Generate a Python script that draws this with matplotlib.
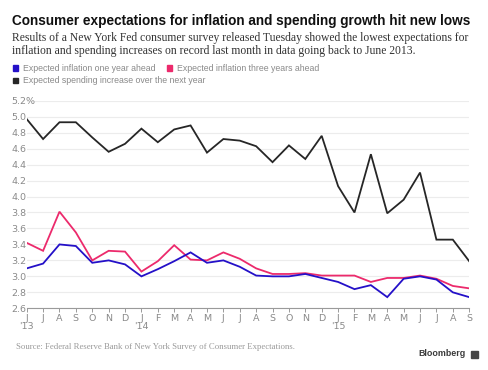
import matplotlib
matplotlib.use("Agg")
import matplotlib.pyplot as plt
import numpy as np

months = ["J", "J", "A", "S", "O", "N", "D", "J", "F", "M", "A", "M", "J", "J",
          "A", "S", "O", "N", "D", "J", "F", "M", "A", "M", "J", "J", "A", "S"]
year_labels = {0: "'13", 7: "'14", 19: "'15"}

inflation_1y = [3.10, 3.16, 3.40, 3.38, 3.17, 3.20, 3.15, 3.00, 3.09, 3.19, 3.30, 3.17,
                3.20, 3.12, 3.01, 3.00, 3.00, 3.03, 2.98, 2.93, 2.84, 2.89, 2.74, 2.97,
                3.00, 2.96, 2.80, 2.74]
inflation_3y = [3.42, 3.32, 3.81, 3.55, 3.20, 3.32, 3.31, 3.06, 3.19, 3.39, 3.21, 3.20,
                3.30, 3.22, 3.10, 3.03, 3.03, 3.04, 3.01, 3.01, 3.01, 2.93, 2.98, 2.98,
                3.01, 2.97, 2.88, 2.85]
spending = [4.97, 4.72, 4.93, 4.93, 4.74, 4.56, 4.66, 4.85, 4.68, 4.84, 4.89, 4.55,
            4.72, 4.70, 4.63, 4.43, 4.64, 4.47, 4.76, 4.13, 3.80, 4.53, 3.79, 3.96,
            4.30, 3.46, 3.46, 3.19]

yticks = [2.6, 2.8, 3.0, 3.2, 3.4, 3.6, 3.8, 4.0, 4.2, 4.4, 4.6, 4.8, 5.0, 5.2]

BLUE = "#2410c8"
PINK = "#ec2a6c"
BLACK = "#262626"
GRAY_TXT = "#8a8a8a"

W, H = 488, 370
fig = plt.figure(figsize=(W / 100, H / 100), dpi=100)
fig.patch.set_facecolor("white")

x0, x1 = 26.7, 469.2
ytop, ybot = 100.7, 308.3
ax = fig.add_axes([x0 / W, 1 - ybot / H, (x1 - x0) / W, (ybot - ytop) / H])
ax.set_facecolor("none")

x = np.arange(len(months))
ax.plot(x, spending, color=BLACK, lw=1.3, solid_joinstyle="miter", zorder=3)
ax.plot(x, inflation_3y, color=PINK, lw=1.3, solid_joinstyle="miter", zorder=4)
ax.plot(x, inflation_1y, color=BLUE, lw=1.3, solid_joinstyle="miter", zorder=5)

ax.set_xlim(0, len(months) - 1)
ax.set_ylim(2.6, 5.2)
ax.set_yticks(yticks)
ax.set_yticklabels([f"{v:.1f}%" if v == 5.2 else f"{v:.1f}" for v in yticks])
ax.grid(axis="y", color="#ececec", lw=0.8, zorder=0)
ax.grid(axis="x", visible=False)
for s in ["top", "right", "left"]:
    ax.spines[s].set_visible(False)
ax.spines["bottom"].set_color("#9a9a9a")
ax.spines["bottom"].set_linewidth(0.8)
ax.spines["bottom"].set_zorder(6)

ax.tick_params(axis="y", length=0, pad=(x0 - 11) * 0.72, labelsize=6.8, labelcolor=GRAY_TXT)
for lab in ax.get_yticklabels():
    lab.set_horizontalalignment("left")

ax.set_xticks(x)
ax.set_xticklabels([m + ("\n" + year_labels[i] if i in year_labels else "\n") for i, m in enumerate(months)],
                   linespacing=0.85)
ax.tick_params(axis="x", length=3, width=0.7, color="#9a9a9a", pad=1.0,
               labelsize=6.8, labelcolor=GRAY_TXT)
for lab in ax.get_xticklabels():
    lab.set_verticalalignment("top")
    lab.set_multialignment("center")

def fy(py):
    return 1 - py / H

def fx(px):
    return px / W

fig.text(fx(12.5), fy(25.5), "Consumer expectations for inflation and spending growth hit new lows",
         family="Liberation Sans", weight="bold", fontsize=9.85, color="#111111", va="baseline")
fig.text(fx(12.5), fy(40.7), "Results of a New York Fed consumer survey released Tuesday showed the lowest expectations for",
         family="Liberation Serif", fontsize=8.4, color="#333333", va="baseline")
fig.text(fx(12.5), fy(53.7), "inflation and spending increases on record last month in data going back to June 2013.",
         family="Liberation Serif", fontsize=8.4, color="#333333", va="baseline")

legend_items = [("Expected inflation one year ahead", BLUE, 12.5, 68.3),
                ("Expected inflation three years ahead", PINK, 166.5, 68.3),
                ("Expected spending increase over the next year", BLACK, 12.5, 80.7)]
for label, col, lx, ly in legend_items:
    fig.patches.append(plt.Rectangle((fx(lx), fy(ly + 2.6)), 5.5 / W, 5.5 / H,
                                     transform=fig.transFigure, color=col, figure=fig))
    fig.text(fx(lx + 10.5), fy(ly), label, fontsize=6.3, color=GRAY_TXT, va="center",
             family="Liberation Sans")

fig.text(fx(16), fy(346.7), "Source: Federal Reserve Bank of New York Survey of Consumer Expectations.",
         family="Liberation Serif", fontsize=6.3, color="#999999", va="center")
fig.text(fx(466), fy(354), "Bloomberg", family="Liberation Sans", weight="bold", fontsize=6.4,
         color="#3a3a3a", va="center", ha="right")
fig.patches.append(plt.Rectangle((fx(470.5), fy(357.5)), 7 / W, 7 / H, transform=fig.transFigure,
                                 color="#444444", figure=fig))

fig.savefig("out.png", dpi=100, facecolor="white")
